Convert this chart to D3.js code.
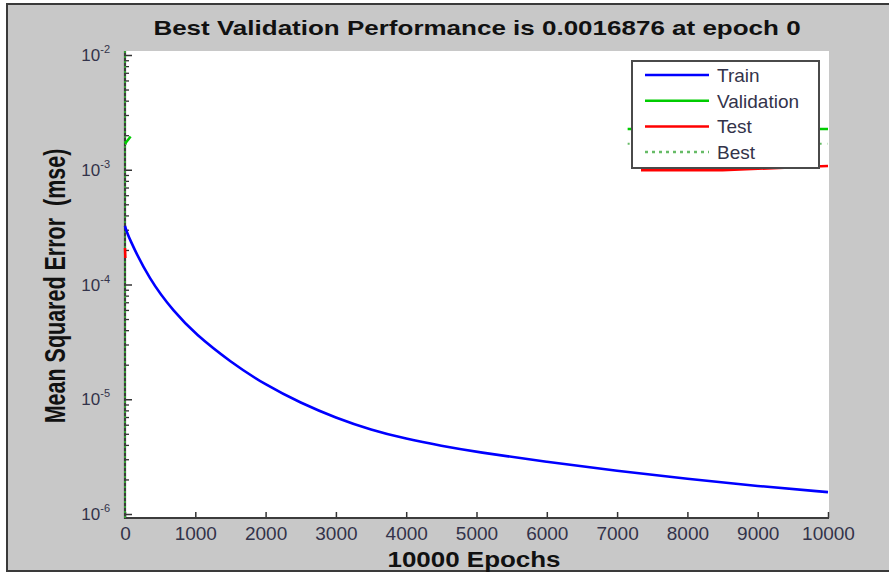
<!DOCTYPE html>
<html>
<head>
<meta charset="utf-8">
<script src="https://cdn.jsdelivr.net/npm/d3@7"></script>
<style>
  body { margin: 0; background: #fff; }
  text { font-family: "Liberation Sans", Arial, Helvetica, sans-serif; }
</style>
</head>
<body>
<svg id="chart" width="889" height="573"></svg>
<script>
// training record
var epochs = [0, 40, 350, 700, 1000, 1500, 2000, 2500, 3000, 3500, 4000, 4500, 5000, 6000, 7000, 8000, 9000, 10000];
var trainPerf = [3.24e-4, 2.65e-4, 1.09e-4, 5.75e-5, 3.7e-5, 2.11e-5, 1.33e-5, 9.27e-6, 6.87e-6, 5.4e-6, 4.51e-6, 3.92e-6, 3.47e-6, 2.84e-6, 2.37e-6, 2.02e-6, 1.75e-6, 1.55e-6];

// validation / test only show at the start and near the end (null = gap)
var valEpochs = [0, 80, 4000, 7150, 10000];
var valPerf = [0.0016876, 0.00195, null, 0.00226, 0.00226];
var testEpochs = [0, 5, 4000, 7340, 8500, 9700, 10000];
var testPerf = [2.08e-4, 1.7e-4, null, 9.9e-4, 9.9e-4, 1.06e-3, 1.08e-3];

var bestEpoch = 0;
var bestPerf = 0.0016876;
var bestEpochs = [0, 100, 4000, 7150, 10000];

var xTicks = [0, 1000, 2000, 3000, 4000, 5000, 6000, 7000, 8000, 9000, 10000];
var yDecades = [1e-6, 1e-5, 1e-4, 1e-3, 1e-2];
var yExponents = ["-6", "-5", "-4", "-3", "-2"];

var legendNames = ["Train", "Validation", "Test", "Best"];
var legendColors = ["#0000ff", "#00cc00", "#ff0000", "#66bb66"];

var svg = d3.select("#chart");

var x = d3.scaleLinear()
          .domain([0, 10000])
          .range([125, 828]);

var y = d3.scaleLog()
          .domain([1e-6, 1e-2])
          .range([514, 55]);

var plotTop = 51, plotBottom = 518, plotRight = 829;

// figure background
svg.append("rect")
    .attr("x", 7)
    .attr("y", 4)
    .attr("width", 900)
    .attr("height", 567)
    .attr("fill", "#c8c8c8")
    .attr("stroke", "#3a3a3a")
    .attr("stroke-width", 2);

svg.append("rect")
    .attr("x", x(0))
    .attr("y", plotTop)
    .attr("width", plotRight - x(0))
    .attr("height", plotBottom - plotTop)
    .attr("fill", "#fff");

// ticks (inside the axes, MATLAB style)
var minorTicks = [];
yDecades.slice(0, 4).forEach(d => {
  for (var k = 2; k <= 9; k++) minorTicks.push(k * d);
});

var xAxis = svg.append("g")
    .attr("transform", "translate(0," + plotBottom + ")")
    .call(d3.axisBottom(x)
            .tickValues(xTicks)
            .tickSizeInner(-6)
            .tickSizeOuter(0)
            .tickPadding(9)
            .tickFormat(d3.format("d")));

xAxis.select(".domain").remove();
xAxis.selectAll("line").attr("stroke", "#333").attr("stroke-width", 1.5);
xAxis.selectAll("text")
    .attr("font-size", 19)
    .attr("fill", "#33334a")
    .style("font-family", "'Liberation Sans', Arial, sans-serif");

var yMinor = svg.append("g")
    .attr("transform", "translate(" + x(0) + ",0)")
    .call(d3.axisLeft(y)
            .tickValues(minorTicks)
            .tickSizeInner(-4)
            .tickSizeOuter(0)
            .tickFormat(""));

var yMajor = svg.append("g")
    .attr("transform", "translate(" + x(0) + ",0)")
    .call(d3.axisLeft(y)
            .tickValues(yDecades)
            .tickSizeInner(-7)
            .tickSizeOuter(0)
            .tickFormat(""));

svg.selectAll(".domain").remove();
yMinor.selectAll("line").attr("stroke", "#333").attr("stroke-width", 1.3);
yMajor.selectAll("line").attr("stroke", "#333").attr("stroke-width", 1.5);

// decade labels with superscript exponents
var yLabels = svg.append("g");
yDecades.forEach((d, i) => {
  var t = yLabels.append("text")
      .attr("x", 110)
      .attr("y", y(d) + 6)
      .attr("text-anchor", "end")
      .attr("fill", "#33334a")
      .attr("font-size", 17);
  t.append("tspan").text("10");
  t.append("tspan")
      .attr("dy", -8)
      .attr("font-size", 11)
      .text(yExponents[i]);
});

// axis lines
svg.append("path")
    .attr("d", "M" + x(0) + "," + plotTop + "V" + plotBottom + "H" + plotRight)
    .attr("fill", "none")
    .attr("stroke", "#3c3c3c")
    .attr("stroke-width", 2.2);

// series
var line = d3.line()
             .defined(d => d[1] !== null)
             .x(d => x(d[0]))
             .y(d => y(d[1]));

var smooth = d3.line()
               .x(d => x(d[0]))
               .y(d => y(d[1]))
               .curve(d3.curveBasis);

// best markers
svg.append("line")
    .attr("x1", x(bestEpoch))
    .attr("x2", x(bestEpoch))
    .attr("y1", plotBottom)
    .attr("y2", plotTop)
    .attr("stroke", "#33bb33")
    .attr("stroke-width", 1.5)
    .attr("stroke-dasharray", "2,3");

svg.append("path")
    .datum(bestEpochs.map((e, i) => [e, i === 2 ? null : bestPerf]))
    .attr("d", line)
    .attr("fill", "none")
    .attr("stroke", "#66bb66")
    .attr("stroke-width", 2)
    .attr("stroke-dasharray", "2,6");

svg.append("path")
    .datum(valEpochs.map((e, i) => [e, valPerf[i]]))
    .attr("d", line)
    .attr("fill", "none")
    .attr("stroke", "#00cc00")
    .attr("stroke-width", 2.5);

svg.append("path")
    .datum(testEpochs.map((e, i) => [e, testPerf[i]]))
    .attr("d", line)
    .attr("fill", "none")
    .attr("stroke", "#ff0000")
    .attr("stroke-width", 2.5);

svg.append("path")
    .datum(epochs.map((e, i) => [e, trainPerf[i]]))
    .attr("d", smooth)
    .attr("fill", "none")
    .attr("stroke", "#0000ff")
    .attr("stroke-width", 2.6);

// legend
var legend = svg.append("g");

legend.append("rect")
    .attr("x", 632)
    .attr("y", 61)
    .attr("width", 187)
    .attr("height", 107)
    .attr("fill", "#fff")
    .attr("stroke", "#4a4a4a")
    .attr("stroke-width", 2);

legendNames.forEach((name, i) => {
  var ly = 75 + i * 25.7;
  legend.append("line")
      .attr("x1", 645)
      .attr("x2", 709)
      .attr("y1", ly)
      .attr("y2", ly)
      .attr("stroke", legendColors[i])
      .attr("stroke-width", 2.5)
      .attr("stroke-dasharray", name === "Best" ? "3,4" : null);
  legend.append("text")
      .attr("x", 717)
      .attr("y", ly + 7)
      .attr("font-size", 19)
      .attr("fill", "#33334a")
      .text(name);
});

// titles
svg.append("text")
    .attr("transform", "translate(477,35) scale(1.3,1)")
    .attr("text-anchor", "middle")
    .attr("font-size", 20)
    .attr("font-weight", "bold")
    .attr("fill", "#111")
    .text("Best Validation Performance is " + bestPerf + " at epoch " + bestEpoch);

svg.append("text")
    .attr("transform", "translate(474,567) scale(1.18,1)")
    .attr("text-anchor", "middle")
    .attr("font-size", 22)
    .attr("font-weight", "bold")
    .attr("fill", "#111")
    .text("10000 Epochs");

svg.append("text")
    .attr("transform", "translate(65,286) scale(1.4,1) rotate(-90)")
    .attr("text-anchor", "middle")
    .attr("font-size", 21.5)
    .attr("font-weight", "bold")
    .attr("fill", "#111")
    .attr("xml:space", "preserve")
    .style("white-space", "pre")
    .text("Mean Squared Error  (mse)");
</script>
</body>
</html>
